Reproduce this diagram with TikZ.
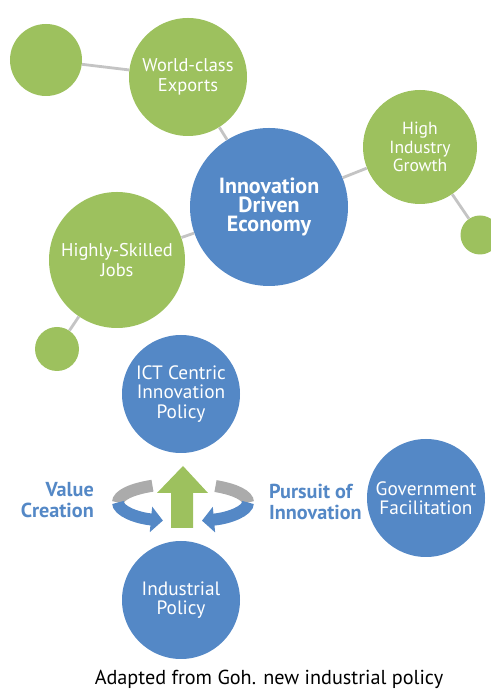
\documentclass[tikz,border=0pt]{standalone}
\usepackage{fontspec}
\setmainfont{PT Sans}
\usetikzlibrary{arrows.meta}
\definecolor{leaf-green}{HTML}{9DC15E}
\definecolor{ocean-blue}{HTML}{5488C6}
\definecolor{link-grey}{HTML}{C4C4C4}
\definecolor{ring-grey}{HTML}{ABABAB}

\begin{document}
\begin{tikzpicture}[
    bubble/.style={
        circle, inner sep=0pt, align=center, text=white,
    },
    green bubble/.style={
        bubble, fill=leaf-green, font=\fontsize{10.5}{11.5}\selectfont,
    },
    blue bubble/.style={
        bubble, fill=ocean-blue, minimum size=2.36cm,
        font=\fontsize{11}{11}\selectfont,
    },
    link/.style={ draw=link-grey, line width=1.6pt, },
    ring/.style={ line width=0.24cm, },
    ring tip/.style={ -{Triangle[width=0.5cm, length=0.24cm]}, },
    side label/.style={
        text=ocean-blue, font=\bfseries\fontsize{11.5}{11.5}\selectfont,
    },
]
\useasboundingbox (0,0) rectangle (9.82,13.8);

\node[green bubble, minimum size=1.44cm] (exports-tail) at (0.92,12.6) {};
\node[green bubble, minimum size=2.36cm] (exports) at (3.76,12.26) {World-class\\Exports};
\node[blue bubble, minimum size=3.16cm,
      font=\bfseries\fontsize{12.5}{11}\selectfont] (economy) at (5.38,9.66)
    {Innovation\\Driven\\Economy};
\node[green bubble, minimum size=2.28cm,
      font=\fontsize{10}{10.5}\selectfont] (growth) at (8.4,10.86) {High\\Industry\\Growth};
\node[green bubble, minimum size=0.78cm] (growth-tail) at (9.6,9.1) {};
\node[green bubble, minimum size=2.72cm] (jobs) at (2.34,8.6) {Highly-Skilled\\Jobs};
\node[green bubble, minimum size=0.88cm] (jobs-tail) at (1.14,6.82) {};

\draw[link] (exports-tail) -- (exports);
\draw[link] (exports) -- (economy);
\draw[link] (economy) -- (growth);
\draw[link] (growth) -- (growth-tail);
\draw[link] (economy) -- (jobs);
\draw[link] (jobs) -- (jobs-tail);

\node[blue bubble] (ict) at (3.62,5.92) {ICT Centric\\Innovation\\Policy};
\node[blue bubble] (government) at (8.52,3.84) {Government\\Facilitation};
\node[blue bubble] (industrial) at (3.62,1.8) {Industrial\\Policy};

\coordinate (ring) at (3.66,3.75);
\draw[ring, draw=ring-grey] (ring) ++(118:1.3cm and 0.38cm)
    arc[start angle=118, end angle=180, x radius=1.3cm, y radius=0.38cm];
\draw[ring, ring tip, draw=ocean-blue, fill=ocean-blue] (ring) ++(180:1.3cm and 0.38cm)
    arc[start angle=180, end angle=252, x radius=1.3cm, y radius=0.38cm];
\draw[ring, draw=ring-grey] (ring) ++(60:1.3cm and 0.38cm)
    arc[start angle=60, end angle=0, x radius=1.3cm, y radius=0.38cm];
\draw[ring, ring tip, draw=ocean-blue, fill=ocean-blue] (ring) ++(0:1.3cm and 0.38cm)
    arc[start angle=0, end angle=-73, x radius=1.3cm, y radius=0.38cm];

\fill[leaf-green] (3.42,3.24) -- (3.42,3.94) -- (3.14,3.94) -- (3.66,4.48)
    -- (4.16,3.94) -- (3.86,3.94) -- (3.86,3.24) -- cycle;

\node[side label, align=right, anchor=east] (value) at (2.0,3.8) {Value\\Creation};
\node[side label, align=left, anchor=west] (pursuit) at (5.26,3.76) {Pursuit of\\Innovation};

\node[font=\fontsize{11.5}{12}\selectfont] (source) at (5.38,0.22)
    {Adapted from Goh. new industrial policy};
\end{tikzpicture}
\end{document}
